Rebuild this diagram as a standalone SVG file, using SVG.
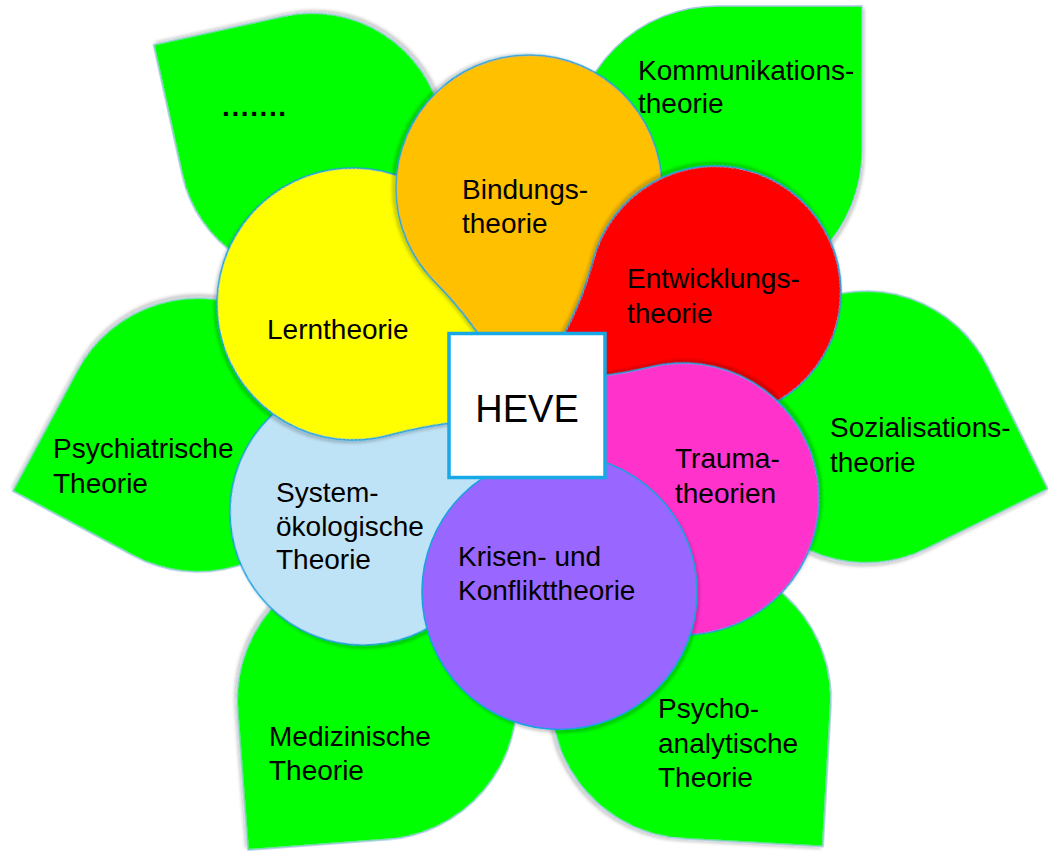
<svg xmlns="http://www.w3.org/2000/svg" width="1048" height="852" viewBox="0 0 1048 852">
<style>
.leaf{fill:#00FF00;stroke:#A6C6E6;stroke-width:1.3;filter:url(#sh)}
.pet{stroke:#1BA1E2;stroke-width:1.6;filter:url(#sh)}
text{font-family:"Liberation Sans",Arial,sans-serif;font-size:28px;fill:#000}
</style>
<defs>
<filter id="sh" x="-10%" y="-10%" width="125%" height="125%">
<feDropShadow dx="2" dy="3" stdDeviation="1.5" flood-color="#000" flood-opacity="0.2"/>
</filter>
</defs>
<rect width="1048" height="852" fill="#fff"/>
<g id="leaf-dots"><path class="leaf" transform="translate(312,146) rotate(-102.4)" d="M0,-133 L133,-133 L133,0 A133,133 0 1 1 0,-133Z"/><text x="222" y="116" style="letter-spacing:1.6px;font-weight:bold">.......</text></g>
<g id="leaf-kommunikation"><path class="leaf" transform="translate(717,151)" d="M0,-145 L145,-145 L145,0 A145,145 0 1 1 0,-145Z"/><text x="638" y="80">Kommunikations-</text><text x="638" y="113">theorie</text></g>
<g id="leaf-sozialisation"><path class="leaf" transform="translate(866,427) rotate(63.8)" d="M0,-136 L136,-136 L136,0 A136,136 0 1 1 0,-136Z"/><text x="830" y="437">Sozialisations-</text><text x="830" y="472">theorie</text></g>
<g id="leaf-psychoanalytisch"><path class="leaf" transform="translate(691,699) rotate(93.2)" d="M0,-140 L140,-140 L140,0 A140,140 0 1 1 0,-140Z"/><text x="658" y="718">Psycho-</text><text x="658" y="753">analytische</text><text x="658" y="787">Theorie</text></g>
<g id="leaf-medizinisch"><path class="leaf" transform="translate(377,700) rotate(175.7)" d="M0,-140 L140,-140 L140,0 A140,140 0 1 1 0,-140Z"/><text x="269" y="746">Medizinische</text><text x="269" y="780">Theorie</text></g>
<g id="leaf-psychiatrisch"><path class="leaf" transform="translate(198,435) rotate(-151.8)" d="M0,-137 L137,-137 L137,0 A137,137 0 1 1 0,-137Z"/><text x="53" y="458">Psychiatrische</text><text x="53" y="493">Theorie</text></g>
<g id="petal-system"><path class="pet" fill="#BFE3F6" transform="translate(363,512) rotate(-5)" d="M0,-133 Q76.5,-133 153,-153 Q133,-76.5 133,0 A133,133 0 1 1 0,-133Z"/><text x="276" y="502">System-</text><text x="276" y="536">ökologische</text><text x="276" y="569">Theorie</text></g>
<g id="petal-lern"><path class="pet" fill="#FFFF00" transform="translate(353,304) rotate(75)" d="M0,-136 Q81.6,-136 163.2,-163.2 Q136,-81.6 136,0 A136,136 0 1 1 0,-136Z"/><text x="267" y="339">Lerntheorie</text></g>
<g id="petal-bindung"><path class="pet" fill="#FFC000" transform="translate(529,188) rotate(135)" d="M0,-133 Q86.45,-133 172.9,-172.9 Q133,-86.45 133,0 A133,133 0 1 1 0,-133Z"/><text x="462" y="199">Bindungs-</text><text x="462" y="233">theorie</text></g>
<g id="petal-entwicklung"><path class="pet" fill="#FF0000" transform="translate(715,292) rotate(195)" d="M0,-126 Q81.9,-126 163.8,-163.8 Q126,-81.9 126,0 A126,126 0 1 1 0,-126Z"/><text x="627" y="288">Entwicklungs-</text><text x="627" y="323">theorie</text></g>
<g id="petal-trauma"><path class="pet" fill="#FF33CC" transform="translate(683,499) rotate(-104)" d="M0,-136 Q88.4,-136 176.8,-176.8 Q136,-88.4 136,0 A136,136 0 1 1 0,-136Z"/><text x="675" y="468">Trauma-</text><text x="675" y="503">theorien</text></g>
<g id="petal-krisen"><circle class="pet" fill="#9966FF" cx="559.5" cy="592" r="137.5"/><text x="458" y="566">Krisen- und</text><text x="458" y="600">Konflikttheorie</text></g>
<g id="heve"><rect x="449" y="333.5" width="156" height="144" fill="#fff" stroke="#17A9E6" stroke-width="3.5"/><text x="527" y="422" text-anchor="middle" style="font-size:38px">HEVE</text></g>
<g id="connectors"></g>
</svg>
